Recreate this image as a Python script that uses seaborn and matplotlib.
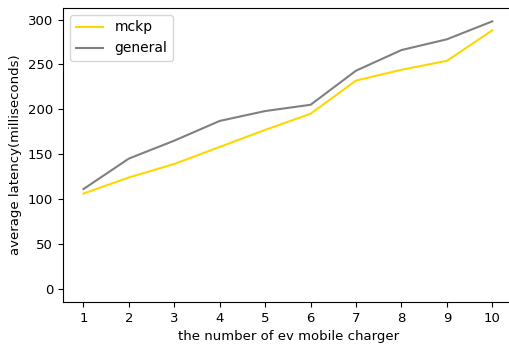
import pandas as pd
import seaborn as sns
import matplotlib.pyplot as plt

# number of ev mobile chargers and the latency of each method
chargers = [1, 2, 3, 4, 5, 6, 7, 8, 9, 10]
mckp = [106, 124, 139, 158, 177, 195, 232, 244, 254, 288]
general = [111, 145, 165, 187, 198, 205, 243, 266, 278, 298]

df = pd.concat([
    pd.DataFrame({'chargers': chargers, 'latency': mckp, 'method': 'mckp'}),
    pd.DataFrame({'chargers': chargers, 'latency': general, 'method': 'general'}),
], ignore_index=True)

plt.rcParams['font.size'] = 9.5

fig = plt.figure(figsize=(5.1, 3.45), dpi=100)
# the original image is cropped on the right, so the axes run past the edge
ax = fig.add_axes([63 / 510, 43 / 345, 452 / 510, 294 / 345])
sns.lineplot(data=df, x='chargers', y='latency', hue='method',
             palette={'mckp': '#FFD700', 'general': '#808080'},
             linewidth=1.5, ax=ax)

ax.set_xticks(chargers)
ax.set_xlim(0.55, 10.5)
ax.set_ylim(-14.9, 312.9)
ax.spines['right'].set_visible(False)
ax.set_xlabel("the number of ev mobile charger")
ax.set_ylabel("average latency(milliseconds)")
ax.legend(loc='upper left', fontsize=10)

fig.savefig("out.png", dpi=100)
